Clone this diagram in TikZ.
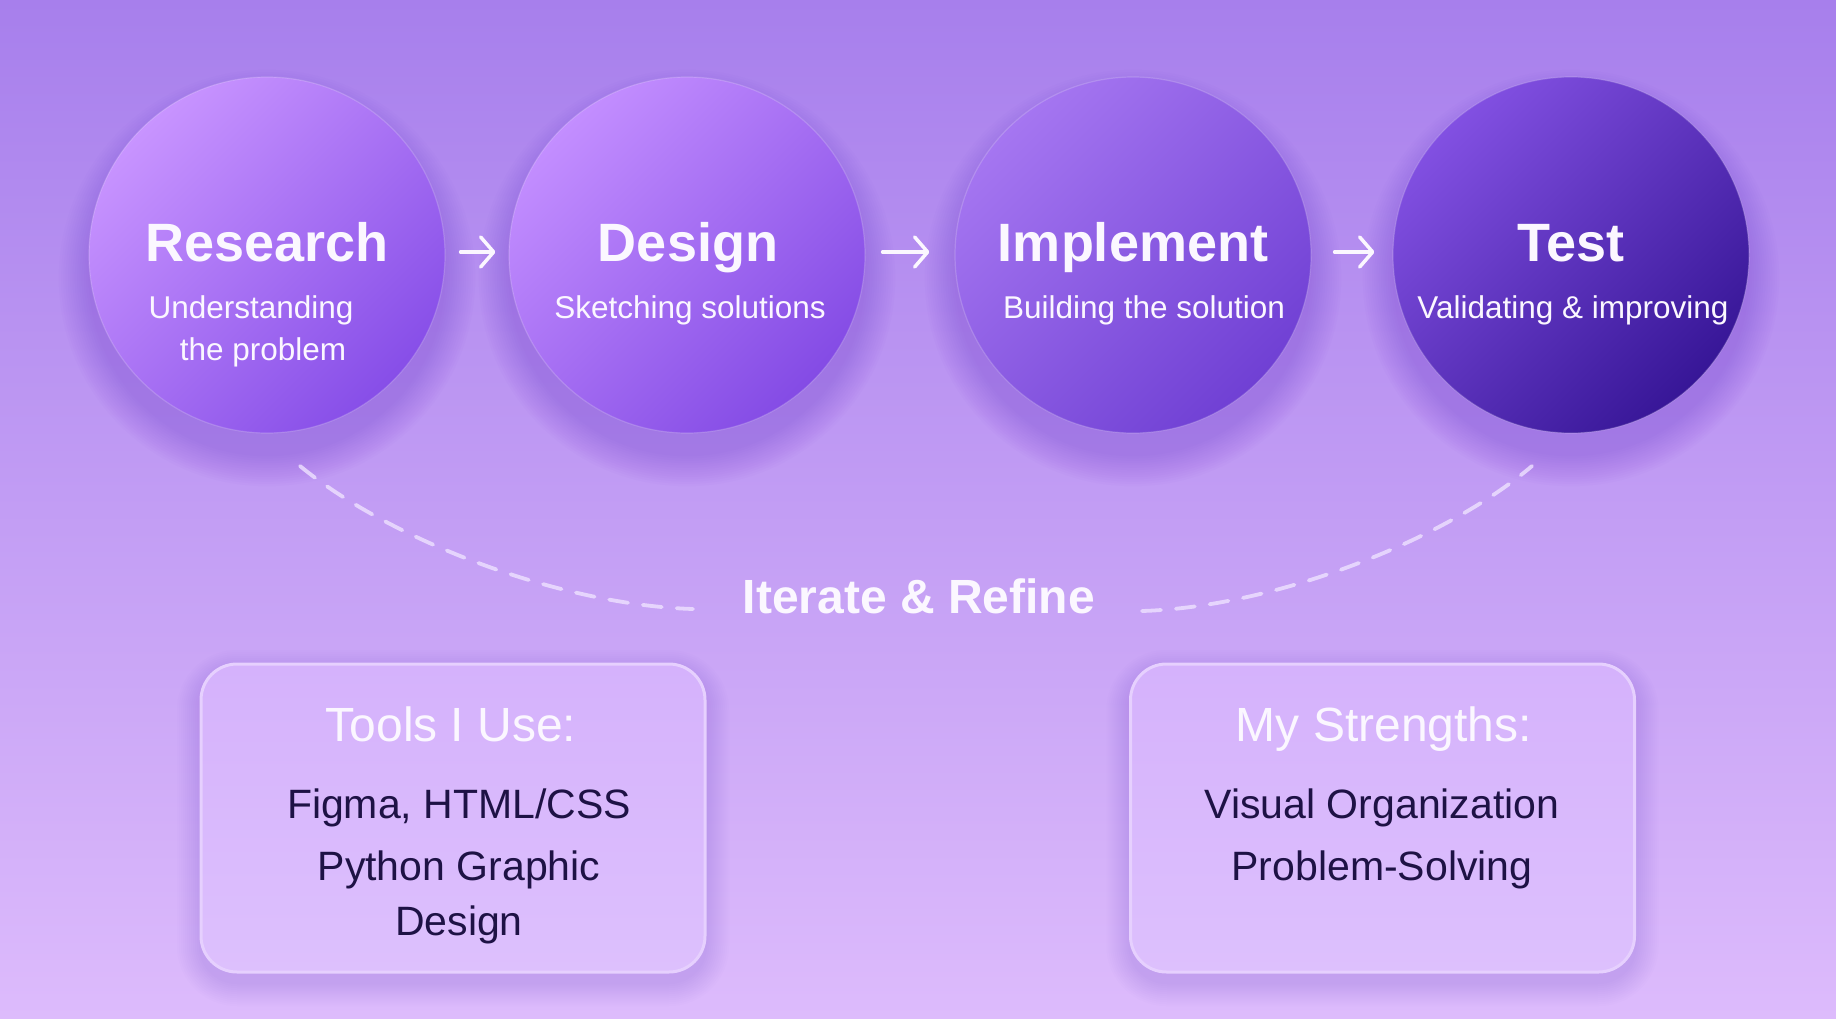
\documentclass[tikz,border=0pt]{standalone}
\usepackage{fontspec}
\setmainfont{Liberation Sans}
\usetikzlibrary{arrows.meta}
\definecolor{bgtop}{HTML}{A77FEC}
\definecolor{bgbot}{HTML}{DDBBFC}
\definecolor{rtl}{HTML}{C894FF}
\definecolor{rbr}{HTML}{874EE8}
\definecolor{dtl}{HTML}{C38EFF}
\definecolor{dbr}{HTML}{844BE5}
\definecolor{itl}{HTML}{A576F1}
\definecolor{ibr}{HTML}{7040D4}
\definecolor{ttl}{HTML}{8250E2}
\definecolor{tbr}{HTML}{371697}
\definecolor{shadowcol}{HTML}{7E45D8}
\definecolor{boxtop}{HTML}{D5B2FC}
\definecolor{boxbot}{HTML}{DDC0FD}
\definecolor{boxedge}{HTML}{E6D0FE}
\definecolor{darktext}{HTML}{1E1245}
\definecolor{lighttext}{HTML}{FBF7FF}
\definecolor{dashcol}{HTML}{EEE2FF}
\tikzset{
  stage/.style={circle, minimum size=356pt, inner sep=0pt,
    draw=white, draw opacity=0.18, line width=1.2pt},
  stageshade/.style 2 args={top color=#1, bottom color=#2, shading angle=45},
  stagetitle/.style={anchor=base, text=lighttext, font=\fontsize{54}{60}\selectfont\bfseries},
  stagesub/.style={anchor=base, text=lighttext, font=\fontsize{31.5}{36}\selectfont},
  flowarrow/.style={draw=lighttext, line width=3.5pt, line cap=round,
    -{Straight Barb[length=13pt, width=30pt, line cap=round, line join=round]}},
  loopline/.style={draw=dashcol, draw opacity=0.8, line width=3.8pt, line cap=round,
    dash pattern=on 19pt off 15pt},
  infobox/.style={rectangle, rounded corners=36pt, minimum width=504pt, minimum height=308pt,
    top color=boxtop, bottom color=boxbot, draw=boxedge, line width=3pt},
  boxtitle/.style={anchor=base, text=lighttext, font=\fontsize{48}{54}\selectfont},
  boxbody/.style={anchor=base, text=darktext, font=\fontsize{41}{48}\selectfont},
}
\begin{document}
\begin{tikzpicture}[x=1pt,y=-1pt]
\useasboundingbox (0,0) rectangle (1836,1019);
\shade[top color=bgtop, bottom color=bgbot] (0,0) rectangle (1836,1019);

% soft shadows of the circles
\foreach \cx in {267,687,1133,1571}{
  \foreach \i in {1,...,14}{
    \fill[shadowcol, opacity=0.026] (\cx,278) circle ({176+2.3*\i});
  }
}
% soft shadows of the boxes
\foreach \bx in {453,1382.5}{
  \foreach \i in {1,...,12}{
    \fill[shadowcol, opacity=0.016, rounded corners={36+2*\i}]
      ({\bx-252-2*\i},{674-2*\i}) rectangle ({\bx+252+2*\i},{982+2*\i});
  }
}

% stages
\node[stage, stageshade={rtl}{rbr}] (research) at (267,255) {};
\node[stage, stageshade={dtl}{dbr}] (design) at (687,255) {};
\node[stage, stageshade={itl}{ibr}] (implement) at (1133,255) {};
\node[stage, stageshade={ttl}{tbr}] (test) at (1571,255) {};

\node[stagetitle] (researcht) at (267,261) {Research};
\node[stagesub] (researchs1) at (251,318) {Understanding};
\node[stagesub] (researchs2) at (263,360) {the problem};

\node[stagetitle] (designt) at (688,261) {Design};
\node[stagesub] (designs) at (690,318) {Sketching solutions};

\node[stagetitle] (implementt) at (1133,261) {Implement};
\node[stagesub] (implements) at (1144,318) {Building the solution};

\node[stagetitle] (testt) at (1571,261) {Test};
\node[stagesub] (tests) at (1573,318) {Validating \& improving};

% flow arrows
\draw[flowarrow, shorten <=15pt, shorten >=13pt] ([yshift=3pt]research.east) -- ([yshift=3pt]design.west);
\draw[flowarrow, shorten <=17pt, shorten >=25pt] ([yshift=3pt]design.east) -- ([yshift=3pt]implement.west);
\draw[flowarrow, shorten <=23pt, shorten >=18pt] ([yshift=3pt]implement.east) -- ([yshift=3pt]test.west);

% iterate loop
\node[anchor=base, text=lighttext, font=\fontsize{48}{54}\selectfont\bfseries] (iterate) at (919,613) {Iterate \& Refine};
\coordinate (loopL) at (300,466);
\coordinate (loopLend) at (693,609);
\coordinate (loopRstart) at (1142,611);
\coordinate (loopR) at (1532,466);
\draw[loopline] (loopL) .. controls (390,540) and (560,605) .. (loopLend);
\draw[loopline] (loopRstart) .. controls (1275,607) and (1445,540) .. (loopR);

% info boxes
\node[infobox] (tools) at (453,818) {};
\node[infobox] (strengths) at (1382.5,818) {};

\node[boxtitle] (toolst) at (451,741) {Tools I Use:};
\node[boxbody] (tools1) at (459,818) {Figma, HTML/CSS};
\node[boxbody] (tools2) at (459,880) {Python Graphic};
\node[boxbody] (tools3) at (459,935) {Design};

\node[boxtitle] (strengthst) at (1384,741) {My Strengths:};
\node[boxbody] (strengths1) at (1382,818) {Visual Organization};
\node[boxbody] (strengths2) at (1382,880) {Problem-Solving};
\end{tikzpicture}
\end{document}
